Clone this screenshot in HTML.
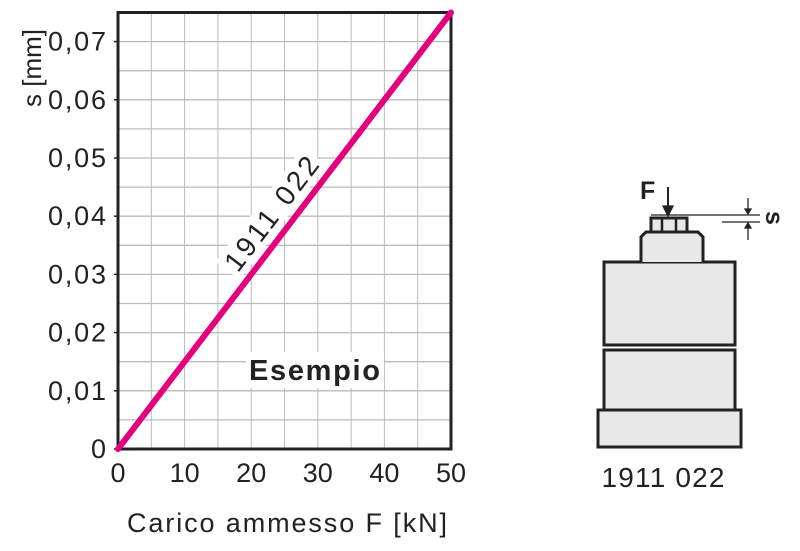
<!DOCTYPE html>
<html><head><meta charset="utf-8"><style>
body{margin:0;background:#fff;width:800px;height:546px;overflow:hidden}
svg{font-family:"Liberation Sans",sans-serif}
</style></head><body>
<svg id="c" width="800" height="546" viewBox="0 0 800 546">
<g id="grid"></g>
<g id="axes"></g>
<g id="series"></g>
<text x="287" y="532" font-size="27" fill="#222" text-anchor="middle" textLength="320">Carico ammesso F [kN]</text>
<text transform="translate(41,68) rotate(-90)" font-size="26" fill="#222" text-anchor="middle">s [mm]</text>
<rect x="246" y="352" width="138" height="36" fill="#fff"/>
<text x="249" y="380" font-size="29" font-weight="bold" fill="#222" textLength="131">Esempio</text>
<g stroke="#222" stroke-width="3" fill="#e8e8e8">
<rect x="598" y="410" width="143" height="37"/>
<rect x="604" y="350" width="131" height="60"/>
<rect x="604" y="262" width="131" height="83"/>
<path d="M641 262 L641 237 L646 232 L698 232 L703 237 L703 262"/>
<rect x="651" y="218" width="36" height="14"/>
<line x1="662" y1="218" x2="662" y2="232" stroke-width="2.5"/>
<line x1="676" y1="218" x2="676" y2="232" stroke-width="2.5"/>
</g>
<g stroke="#222" stroke-width="1.3" fill="#222">
<line x1="651" y1="215" x2="760" y2="215"/>
<line x1="722" y1="222" x2="760" y2="222"/>
<line x1="748" y1="198" x2="748" y2="213"/><path d="M745 209 L751 209 L748 214Z"/>
<line x1="748" y1="224" x2="748" y2="240"/><path d="M745 228 L751 228 L748 223Z"/>
<line x1="668" y1="187" x2="668" y2="210" stroke-width="2"/><path d="M663 206 L673 206 L668 216Z"/>
</g>
<text x="640" y="199" font-size="25" font-weight="bold" fill="#222">F</text>
<text transform="translate(766,218) rotate(90)" font-size="25" font-weight="bold" fill="#222" text-anchor="middle">s</text>
<text x="663" y="487" font-size="28" fill="#222" text-anchor="middle" textLength="123">1911 022</text>
</svg>
<script>
const xTicks=[0,10,20,30,40,50];
const yTicks=[0,0.01,0.02,0.03,0.04,0.05,0.06,0.07];
const yTickLabels=["0","0,01","0,02","0,03","0,04","0,05","0,06","0,07"];
const forceKN=[0,50];
const travelMM=[0,0.075];
const X0=118,X1=451,Y0=449,Y1=12.5;
const sx=v=>X0+(X1-X0)*v/50;
const sy=v=>Y0-(Y0-Y1)*v/0.075;
const NS="http://www.w3.org/2000/svg";
function mk(t,a,p){const e=document.createElementNS(NS,t);for(const k in a)e.setAttribute(k,a[k]);p.appendChild(e);return e;}
const grid=document.getElementById('grid'),axes=document.getElementById('axes'),ser=document.getElementById('series');
for(let v=5;v<50;v+=5){const l=mk('line',{x1:sx(v),x2:sx(v),y1:Y1,y2:Y0,stroke:'#bbb','stroke-width':1},grid);

}
for(let i=1;i<15;i++){const v=i*0.005;const l=mk('line',{x1:X0,x2:X1,y1:sy(v),y2:sy(v),stroke:'#bbb','stroke-width':1.3},grid);

}
const fr=mk('rect',{x:X0,y:Y1,width:X1-X0,height:Y0-Y1,fill:'none',stroke:'#222','stroke-width':3},axes);


xTicks.forEach(v=>{const t=mk('text',{x:sx(v),y:Y0+33,'font-size':27,fill:'#222','text-anchor':'middle'},axes);t.textContent=v;

});
yTicks.forEach((v,i)=>{const t=mk('text',{x:X0-12,y:sy(v)+9,'font-size':27,fill:'#222','text-anchor':'end'},axes);t.textContent=yTickLabels[i];
if(i>0)t.setAttribute('textLength',58);


const k=mk('line',{x1:X0-4,x2:X0,y1:sy(v),y2:sy(v),stroke:'#222','stroke-width':1.5},axes);

});
const ang=Math.atan2(sy(travelMM[0])-sy(travelMM[1]),sx(forceKN[1])-sx(forceKN[0]))*180/Math.PI;
const lx=sx(25.5),ly=sy(0.0383);
const bg=mk('rect',{x:-72,y:-36,width:144,height:30,fill:'#fff',transform:`translate(${lx},${ly}) rotate(${-ang})`},ser);


const ln=mk('line',{x1:sx(forceKN[0]),y1:sy(travelMM[0]),x2:sx(forceKN[1]),y2:sy(travelMM[1]),stroke:'#e4007c','stroke-width':6,'stroke-linecap':'round'},ser);


const lb=mk('text',{'font-size':28,fill:'#222','text-anchor':'middle',textLength:136,transform:`translate(${lx},${ly}) rotate(${-ang}) translate(0,-11)`},ser);
lb.textContent='1911 022';


</script>
</body></html>
